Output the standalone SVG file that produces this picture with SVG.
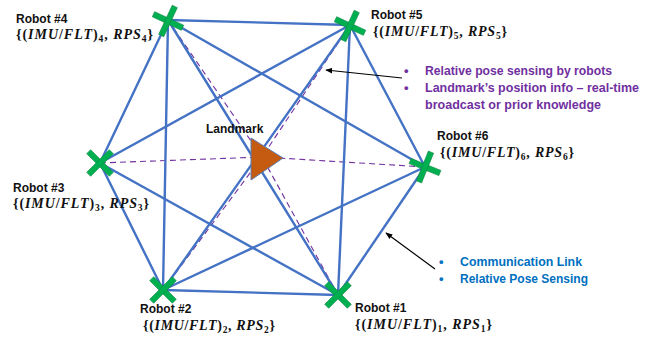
<svg xmlns="http://www.w3.org/2000/svg" width="652" height="337" viewBox="0 0 652 337">
  <style>
    .link { stroke: #4472C4; stroke-width: 2.4; fill: none; stroke-linecap: round; }
    .sense { stroke: #7030A0; stroke-width: 1.1; fill: none; stroke-dasharray: 6 4; }
    .ptr { stroke: #000; stroke-width: 1.2; fill: none; marker-end: url(#tip); }
    .name { font-family: "Liberation Sans", Arial, sans-serif; font-weight: bold; font-size: 12px; fill: #111; }
    .math { font-family: "Liberation Serif", "Times New Roman", serif; font-weight: bold; font-size: 14px; fill: #111; }
    .math .v { font-style: italic; }
    .math .s { font-size: 9.5px; }
    .note { font-family: "Liberation Sans", Arial, sans-serif; font-weight: bold; font-size: 13px; }
    .purple { fill: #7030A0; }
    .blue { fill: #0070C0; }
  </style>
  <defs>
    <marker id="tip" viewBox="0 0 10 10" refX="9" refY="5" markerWidth="7" markerHeight="7" orient="auto" markerUnits="userSpaceOnUse">
      <path d="M0,1 L10,5 L0,9 Z" fill="#000"/>
    </marker>
    <g id="cross">
      <rect x="-16" y="-2.8" width="32" height="5.6" fill="#00B050" stroke="#0E8A45" stroke-width="0.6"/>
      <rect x="-2.8" y="-16" width="5.6" height="32" fill="#00B050" stroke="#0E8A45" stroke-width="0.6"/>
    </g>
  </defs>

  <rect width="652" height="337" fill="#fff"/>

  <!-- connectors: communication links, landmark sensing lines, pointers -->
  <g id="connectors">
    <line class="sense" x1="168" y1="20" x2="262" y2="157"/>
    <line class="sense" x1="350" y1="25" x2="262" y2="157"/>
    <line class="sense" x1="425" y1="167" x2="262" y2="157"/>
    <line class="sense" x1="338" y1="295" x2="262" y2="157"/>
    <line class="sense" x1="163" y1="290" x2="262" y2="157"/>
    <line class="sense" x1="100" y1="163" x2="262" y2="157"/>

    <line class="link" x1="168" y1="20" x2="350" y2="25"/>
    <line class="link" x1="350" y1="25" x2="425" y2="167"/>
    <line class="link" x1="425" y1="167" x2="338" y2="295"/>
    <line class="link" x1="338" y1="295" x2="163" y2="290"/>
    <line class="link" x1="163" y1="290" x2="100" y2="163"/>
    <line class="link" x1="100" y1="163" x2="168" y2="20"/>
    <line class="link" x1="168" y1="20" x2="338" y2="295"/>
    <line class="link" x1="168" y1="20" x2="163" y2="290"/>
    <line class="link" x1="168" y1="20" x2="425" y2="167"/>
    <line class="link" x1="350" y1="25" x2="163" y2="290"/>
    <line class="link" x1="350" y1="25" x2="100" y2="163"/>
    <line class="link" x1="350" y1="25" x2="338" y2="295"/>
    <line class="link" x1="425" y1="167" x2="163" y2="290"/>
    <line class="link" x1="100" y1="163" x2="338" y2="295"/>

    <line class="ptr" x1="402" y1="78" x2="326" y2="70"/>
    <line class="ptr" x1="435" y1="269" x2="386" y2="233"/>
  </g>

  <!-- landmark -->
  <g id="landmark">
    <polygon points="251,138 283,158 251,180" fill="#C55A11" stroke="#5B7BB0" stroke-width="1"/>
    <text class="name" x="206" y="133">Landmark</text>
  </g>

  <!-- robots -->
  <g id="robot1">
    <use href="#cross" transform="translate(338,295) rotate(45)"/>
    <text class="name" x="355" y="312">Robot #1</text>
    <text class="math" x="355" y="329" textLength="137">{(<tspan class="v">IMU</tspan>/<tspan class="v">FLT</tspan>)<tspan class="s" dy="3">1</tspan><tspan dy="-3">, </tspan><tspan class="v">RPS</tspan><tspan class="s" dy="3">1</tspan><tspan dy="-3">}</tspan></text>
  </g>
  <g id="robot2">
    <use href="#cross" transform="translate(163,290) rotate(45)"/>
    <text class="name" x="140" y="313">Robot #2</text>
    <text class="math" x="143" y="330" textLength="132">{(<tspan class="v">IMU</tspan>/<tspan class="v">FLT</tspan>)<tspan class="s" dy="3">2</tspan><tspan dy="-3">, </tspan><tspan class="v">RPS</tspan><tspan class="s" dy="3">2</tspan><tspan dy="-3">}</tspan></text>
  </g>
  <g id="robot3">
    <use href="#cross" transform="translate(100,163) rotate(45)"/>
    <text class="name" x="13" y="192">Robot #3</text>
    <text class="math" x="13" y="208" textLength="136">{(<tspan class="v">IMU</tspan>/<tspan class="v">FLT</tspan>)<tspan class="s" dy="3">3</tspan><tspan dy="-3">, </tspan><tspan class="v">RPS</tspan><tspan class="s" dy="3">3</tspan><tspan dy="-3">}</tspan></text>
  </g>
  <g id="robot4">
    <use href="#cross" transform="translate(168,21) rotate(25)"/>
    <text class="name" x="16" y="23">Robot #4</text>
    <text class="math" x="16" y="39" textLength="137">{(<tspan class="v">IMU</tspan>/<tspan class="v">FLT</tspan>)<tspan class="s" dy="3">4</tspan><tspan dy="-3">, </tspan><tspan class="v">RPS</tspan><tspan class="s" dy="3">4</tspan><tspan dy="-3">}</tspan></text>
  </g>
  <g id="robot5">
    <use href="#cross" transform="translate(350,26) rotate(25)"/>
    <text class="name" x="371" y="19">Robot #5</text>
    <text class="math" x="373" y="36" textLength="134">{(<tspan class="v">IMU</tspan>/<tspan class="v">FLT</tspan>)<tspan class="s" dy="3">5</tspan><tspan dy="-3">, </tspan><tspan class="v">RPS</tspan><tspan class="s" dy="3">5</tspan><tspan dy="-3">}</tspan></text>
  </g>
  <g id="robot6">
    <use href="#cross" transform="translate(425,167) rotate(22)"/>
    <text class="name" x="437" y="140">Robot #6</text>
    <text class="math" x="440" y="157" textLength="134">{(<tspan class="v">IMU</tspan>/<tspan class="v">FLT</tspan>)<tspan class="s" dy="3">6</tspan><tspan dy="-3">, </tspan><tspan class="v">RPS</tspan><tspan class="s" dy="3">6</tspan><tspan dy="-3">}</tspan></text>
  </g>

  <!-- notes -->
  <g id="sensing-note" class="note purple">
    <text x="404" y="75">•</text>
    <text x="425" y="75" textLength="187" lengthAdjust="spacingAndGlyphs">Relative pose sensing by robots</text>
    <text x="404" y="92">•</text>
    <text x="425" y="92" textLength="214" lengthAdjust="spacingAndGlyphs">Landmark’s position info – real-time</text>
    <text x="425" y="109" textLength="176" lengthAdjust="spacingAndGlyphs">broadcast or prior knowledge</text>
  </g>
  <g id="link-note" class="note blue">
    <text x="439" y="266">•</text>
    <text x="460" y="266" textLength="122" lengthAdjust="spacingAndGlyphs">Communication Link</text>
    <text x="439" y="283">•</text>
    <text x="460" y="283" textLength="128" lengthAdjust="spacingAndGlyphs">Relative Pose Sensing</text>
  </g>
</svg>
